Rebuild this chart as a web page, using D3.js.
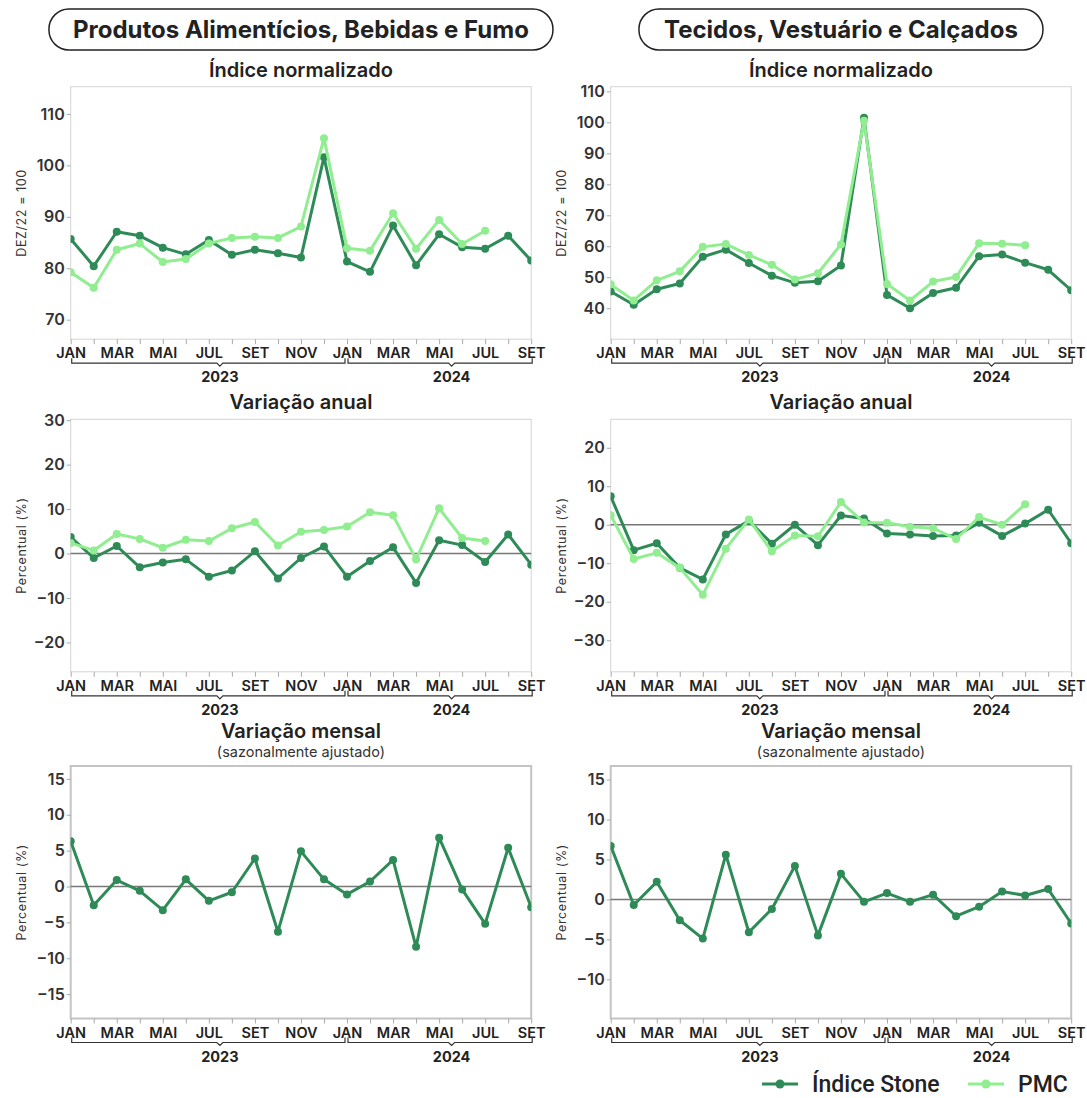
<!DOCTYPE html>
<html>
<head>
<meta charset="utf-8">
<script src="https://cdn.jsdelivr.net/npm/d3@7"></script>
<style>
  body { margin: 0; background: #fff; }
  svg { display: block; font-family: Inter, "Open Sans", sans-serif; }
</style>
</head>
<body>
<svg id="chart" width="1087" height="1098"></svg>
<script>
// meses de jan/2023 a set/2024
const meses = ["JAN","FEV","MAR","ABR","MAI","JUN","JUL","AGO","SET","OUT","NOV","DEZ",
               "JAN","FEV","MAR","ABR","MAI","JUN","JUL","AGO","SET"];
const anos = ["2023","2024"];
const anoDoMes = [0,0,0,0,0,0,0,0,0,0,0,0,1,1,1,1,1,1,1,1,1];

const setores = ["Produtos Alimentícios, Bebidas e Fumo", "Tecidos, Vestuário e Calçados"];
const series = ["Índice Stone", "PMC"];

// Alimentos
const alimStoneIndice = [85.7,80.4,87.1,86.3,84.0,82.7,85.5,82.6,83.6,82.9,82.1,101.6,81.3,79.3,88.3,80.6,86.6,84.1,83.8,86.3,81.5];
const alimPmcIndice   = [79.2,76.2,83.6,84.8,81.2,81.8,84.8,85.9,86.1,85.9,88.1,105.3,83.9,83.4,90.7,83.8,89.4,84.7,87.3,null,null];
const alimStoneAnual  = [3.7,-1.0,1.7,-3.1,-2.0,-1.3,-5.2,-3.8,0.5,-5.6,-1.0,1.6,-5.2,-1.7,1.4,-6.6,3.0,1.9,-1.9,4.3,-2.5];
const alimPmcAnual    = [2.4,0.7,4.4,3.3,1.3,3.1,2.8,5.7,7.1,1.8,4.9,5.3,6.1,9.3,8.6,-1.3,10.2,3.5,2.8,null,null];
const alimStoneMensal = [6.3,-2.6,0.9,-0.6,-3.3,1.0,-2.0,-0.8,3.9,-6.3,4.9,1.0,-1.1,0.7,3.7,-8.4,6.8,-0.4,-5.2,5.4,-2.9];

// Tecidos
const tecStoneIndice = [45.4,41.1,46.1,48.0,56.6,58.9,54.6,50.5,48.2,48.7,53.8,101.5,44.3,40.0,44.9,46.6,56.8,57.3,54.7,52.4,45.8];
const tecPmcIndice   = [47.7,42.5,49.0,51.9,59.8,60.7,57.2,54.0,49.3,51.3,60.6,100.5,47.8,42.5,48.6,50.1,61.0,60.8,60.3,null,null];
const tecStoneAnual  = [7.4,-6.6,-4.8,-11.2,-14.2,-2.5,1.0,-4.9,0.0,-5.3,2.4,1.6,-2.3,-2.5,-2.9,-2.8,0.5,-2.9,0.3,3.9,-4.8];
const tecPmcAnual    = [2.5,-8.9,-7.3,-11.2,-18.2,-6.2,1.4,-6.9,-2.8,-3.0,5.9,0.6,0.5,-0.5,-0.9,-3.7,2.0,0.0,5.3,null,null];
const tecStoneMensal = [6.7,-0.7,2.2,-2.6,-4.9,5.6,-4.1,-1.2,4.2,-4.5,3.2,-0.3,0.8,-0.3,0.6,-2.1,-0.9,1.0,0.5,1.3,-3.0];

// marcas do eixo y
const ticksIndice = [[70,80,90,100,110],[40,50,60,70,80,90,100,110]];
const ticksAnual  = [[-20,-10,0,10,20,30],[-30,-20,-10,0,10,20]];
const ticksMensal = [[-15,-10,-5,0,5,10,15],[-10,-5,0,5,10,15]];

const titulos = ["Índice normalizado", "Variação anual", "Variação mensal"];
const subtitulo = "(sazonalmente ajustado)";
const yTitulos = ["DEZ/22 = 100", "Percentual (%)", "Percentual (%)"];
const folga = [10, 20, 10];

const cores = ["#2e8b57", "#90ee90"];

const svg = d3.select("#chart");
const plotLeft = [70.7, 610.7], plotW = 460.5;
const plotTop = [86.7, 419.3, 766], plotH = 252.5;

const panels = [
  {col:0,row:0, data:[alimStoneIndice, alimPmcIndice], ticks:ticksIndice[0]},
  {col:1,row:0, data:[tecStoneIndice, tecPmcIndice], ticks:ticksIndice[1]},
  {col:0,row:1, data:[alimStoneAnual, alimPmcAnual], ticks:ticksAnual[0]},
  {col:1,row:1, data:[tecStoneAnual, tecPmcAnual], ticks:ticksAnual[1]},
  {col:0,row:2, data:[alimStoneMensal], ticks:ticksMensal[0]},
  {col:1,row:2, data:[tecStoneMensal], ticks:ticksMensal[1]}
];

// cabeçalhos
setores.forEach((s, c) => {
  const cx = plotLeft[c] + plotW / 2;
  const w = c === 0 ? 504 : 404;
  svg.append("rect")
    .attr("x", cx - w / 2).attr("y", 9).attr("width", w).attr("height", 41)
    .attr("rx", 20).attr("fill", "#fff").attr("stroke", "#222").attr("stroke-width", 1.5);
  svg.append("text")
    .attr("x", cx).attr("y", 38).attr("text-anchor", "middle")
    .attr("font-size", 24).attr("font-weight", 700).attr("fill", "#222")
    .text(s);
});

panels.forEach((p, k) => {
  const x0 = plotLeft[p.col], y0 = plotTop[p.row], y1 = y0 + plotH;
  const x = d3.scalePoint().domain(d3.range(meses.length)).range([x0, x0 + plotW]);
  const step = x.step();
  const all = p.data.flat().filter(v => v != null);
  const y = d3.scaleLinear()
    .domain([d3.min(all) - folga[p.row], d3.max(all) + folga[p.row]])
    .range([y1, y0]);

  const g = svg.append("g");

  // títulos
  const cx = x0 + plotW / 2;
  if (p.row === 2) {
    g.append("text").attr("x", cx).attr("y", y0 - 28).attr("text-anchor", "middle")
      .attr("font-size", 20).attr("font-weight", 600).attr("fill", "#222").text(titulos[p.row]);
    g.append("text").attr("x", cx).attr("y", y0 - 9).attr("text-anchor", "middle")
      .attr("font-size", 14.5).attr("fill", "#333").text(subtitulo);
  } else {
    g.append("text").attr("x", cx).attr("y", y0 - 10).attr("text-anchor", "middle")
      .attr("font-size", 20).attr("font-weight", 600).attr("fill", "#222").text(titulos[p.row]);
  }

  // borda
  g.append("rect").attr("x", x0).attr("y", y0).attr("width", plotW).attr("height", plotH)
    .attr("fill", "none")
    .attr("stroke", p.row === 2 ? "#c4c4c4" : "#d4d4d4")
    .attr("stroke-width", p.row === 2 ? 2 : 1);

  // eixo y
  const ya = g.append("g").attr("transform", `translate(${x0},0)`)
    .call(d3.axisLeft(y).tickValues(p.ticks).tickSize(4).tickPadding(2));
  ya.select(".domain").remove();
  ya.selectAll("line").attr("stroke", "#aaa");
  ya.selectAll("text").attr("font-size", 16).attr("font-weight", 600).attr("fill", "#333")
    .attr("font-family", "Inter, sans-serif");

  g.append("text")
    .attr("transform", `translate(${x0 - 45},${y0 + plotH / 2}) rotate(-90)`)
    .attr("text-anchor", "middle").attr("font-size", 12.5).attr("fill", "#333")
    .attr("letter-spacing", 0.6)
    .text(yTitulos[p.row]);

  // eixo x
  const xa = g.append("g").attr("transform", `translate(0,${y1})`)
    .call(d3.axisBottom(x).tickSize(5).tickPadding(4)
      .tickFormat(d => d % 2 === 0 ? meses[d] : ""));
  xa.select(".domain").remove();
  xa.selectAll("line").attr("stroke", "#aaa");
  xa.selectAll("text").attr("font-size", 14.5).attr("font-weight", 600).attr("fill", "#222")
    .attr("font-family", "Inter, sans-serif");

  // chaves dos anos
  const by = y1 + 24;
  anos.forEach((a, ai) => {
    const idx = d3.range(meses.length).filter(i => anoDoMes[i] === ai);
    const bx0 = x(idx[0]) + 1;
    const bx1 = Math.min(x(idx[idx.length - 1]) + step - 2, x0 + plotW + 1);
    const xm = (bx0 + bx1) / 2 + step * 0.5;
    g.append("path")
      .attr("d", `M${bx0},${by - 5} L${bx0},${by} L${xm - 3},${by} L${xm},${by + 3} L${xm + 3},${by} L${bx1},${by} L${bx1},${by - 5}`)
      .attr("fill", "none").attr("stroke", "#333").attr("stroke-width", 1.2);
    g.append("text").attr("x", xm).attr("y", by + 19).attr("text-anchor", "middle")
      .attr("font-size", 14.5).attr("font-weight", 700).attr("fill", "#222").text(a);
  });

  // linha do zero
  if (p.row > 0) {
    g.append("line").attr("x1", x0).attr("x2", x0 + plotW)
      .attr("y1", y(0)).attr("y2", y(0))
      .attr("stroke", "#777").attr("stroke-width", 1.5);
  }

  // séries
  const clipId = "clip" + k;
  svg.append("clipPath").attr("id", clipId)
    .append("rect").attr("x", x0).attr("y", y0).attr("width", plotW).attr("height", plotH);
  const sg = g.append("g").attr("clip-path", `url(#${clipId})`);
  const line = d3.line().defined(v => v != null).x((v, i) => x(i)).y(v => y(v));
  p.data.forEach((vals, si) => {
    sg.append("path").datum(vals).attr("d", line)
      .attr("fill", "none").attr("stroke", cores[si]).attr("stroke-width", 3)
      .attr("stroke-linejoin", "round");
    sg.selectAll(null).data(vals.map((v, i) => ({v, i})).filter(d => d.v != null))
      .enter().append("circle")
      .attr("cx", d => x(d.i)).attr("cy", d => y(d.v)).attr("r", 4)
      .attr("fill", cores[si]);
  });
});

// legenda
const legX = [762, 968];
series.forEach((s, i) => {
  const lg = svg.append("g").attr("transform", `translate(${legX[i]},1084)`);
  lg.append("line").attr("x1", 0).attr("x2", 36).attr("stroke", cores[i]).attr("stroke-width", 3);
  lg.append("circle").attr("cx", 18).attr("r", 4.5).attr("fill", cores[i]);
  lg.append("text").attr("x", 50).attr("y", 8)
    .attr("font-family", "Roboto, sans-serif").attr("font-size", 23).attr("font-weight", 500)
    .attr("fill", "#222").text(s);
});
</script>
</body>
</html>
